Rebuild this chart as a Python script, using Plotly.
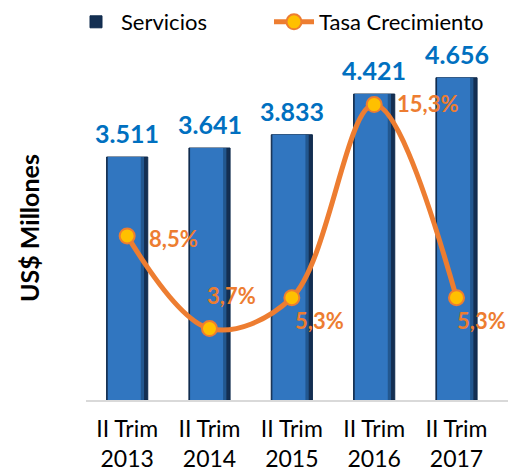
import plotly.graph_objects as go

categories = ["II Trim<br>2013", "II Trim<br>2014", "II Trim<br>2015", "II Trim<br>2016", "II Trim<br>2017"]
servicios = [3511, 3641, 3833, 4421, 4656]
tasa = [8.5, 3.7, 5.3, 15.3, 5.3]

# label offsets (pixels) for the growth labels
pct_dx = [46, 22, 28, 53, 25]
pct_dy = [-3, 33, -23, 1, -23]

FONT = "Lato, 'Open Sans', sans-serif"
BLUE_TXT = "#0070C0"
ORANGE = "#ED7D31"

fig = go.Figure()
# bar body (dark edges)
fig.add_trace(go.Bar(x=categories, y=servicios, name="Servicios", width=0.5,
                     marker=dict(color="#142F52", line=dict(color="#0E2A4C", width=1)),
                     showlegend=True, legend="legend"))
# mid-tone transition band
fig.add_trace(go.Bar(x=categories, y=servicios, width=0.44, offset=-0.235,
                     marker=dict(color="#22578F", line=dict(width=0)),
                     showlegend=False, hoverinfo="skip"))
# lighter face for a bevelled look
fig.add_trace(go.Bar(x=categories, y=servicios, width=0.40, offset=-0.235,
                     marker=dict(color="#3176C0", line=dict(width=0)),
                     showlegend=False, hoverinfo="skip"))
fig.add_trace(go.Scatter(x=categories, y=tasa, name="Tasa Crecimiento", yaxis="y2", legend="legend2",
                         mode="lines+markers", line=dict(color=ORANGE, width=5, shape="spline", smoothing=1.0),
                         marker=dict(color="#FFC000", size=15, line=dict(color=ORANGE, width=2))))

PLOT_TOP, PLOT_BOT = 10, 400
H = PLOT_BOT - PLOT_TOP

ann = []
for c, v in zip(categories, servicios):
    ann.append(dict(x=c, y=v, xref="x", yref="y", text=f"{v:,}".replace(",", "."),
                    showarrow=False, yshift=24, font=dict(family=FONT, size=25, color=BLUE_TXT, weight="bold")))
for c, p, dx, dy in zip(categories, tasa, pct_dx, pct_dy):
    ann.append(dict(x=c, y=p, xref="x", yref="y2", text=f"{p:.1f}%".replace(".", ","),
                    showarrow=False, xshift=dx, yshift=dy, font=dict(family=FONT, size=22, color=ORANGE, weight="bold")))
ann.append(dict(x=-(86 - 29) / 422, y=(400 - 228) / H, xref="paper", yref="paper", text="US$ Millones",
                textangle=-90, showarrow=False, xanchor="center", yanchor="middle",
                font=dict(family=FONT, size=25, color="#000000", weight="bold")))

legend_common = dict(orientation="h", y=(400 - 22) / H, xanchor="left", yanchor="middle",
                     font=dict(size=22), itemwidth=40, bgcolor="rgba(0,0,0,0)")

fig.update_layout(
    width=516, height=472,
    margin=dict(l=86, r=8, t=PLOT_TOP, b=472 - PLOT_BOT, autoexpand=False),
    paper_bgcolor="white", plot_bgcolor="white",
    barmode="overlay",
    font=dict(family=FONT, size=22, color="#000000"),
    xaxis=dict(showline=True, linecolor="#D9D9D9", linewidth=1.5, ticks="", showgrid=False,
               tickfont=dict(size=23), automargin=False, ticklabelstandoff=8),
    yaxis=dict(range=[0, 5635], visible=False, showgrid=False, automargin=False),
    yaxis2=dict(range=[0, 20.2], overlaying="y", visible=False, showgrid=False, automargin=False),
    annotations=ann,
    legend=dict(legend_common, x=(71 - 86) / 422),
    legend2=dict(legend_common, x=(269 - 86) / 422),
)

fig.write_html("out.html", config={"displayModeBar": False},
               post_script="document.body.style.margin='0';document.body.style.overflow='hidden';")
